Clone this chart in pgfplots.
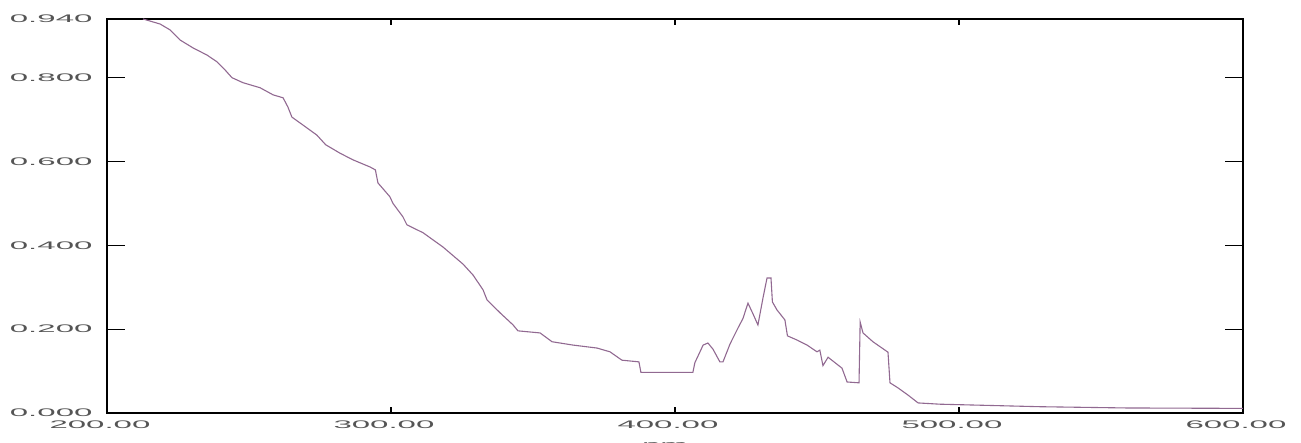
\documentclass[border=0pt]{standalone}
\usepackage{pgfplots}
\pgfplotsset{compat=1.18}
\usepackage{fontspec}
\newfontfamily\tickfont[FakeStretch=3]{Liberation Sans}
\definecolor{curve}{RGB}{145,105,145}
\definecolor{lbl}{RGB}{85,85,85}
\pgfplotstableread{
x y
212.7 0.940
218.7 0.928
222.2 0.914
225.7 0.890
230.3 0.871
235.2 0.854
238.7 0.838
241.5 0.819
244.0 0.800
247.9 0.788
253.9 0.776
258.5 0.759
262.0 0.752
263.7 0.730
265.1 0.706
269.0 0.687
273.9 0.663
277.0 0.640
282.0 0.620
286.6 0.604
292.6 0.587
294.5 0.580
295.4 0.549
299.6 0.516
300.7 0.500
304.2 0.468
305.6 0.449
311.3 0.430
318.3 0.396
325.4 0.355
328.9 0.329
332.4 0.294
333.8 0.270
338.4 0.239
343.0 0.210
344.7 0.196
352.5 0.191
356.7 0.170
364.1 0.162
372.5 0.155
377.1 0.146
381.3 0.126
387.3 0.122
388.0 0.097
406.3 0.097
407.0 0.120
409.9 0.162
411.6 0.167
413.4 0.152
415.8 0.122
416.9 0.122
419.4 0.165
422.2 0.203
423.9 0.225
425.7 0.262
427.5 0.236
429.2 0.210
431.0 0.275
432.4 0.322
433.8 0.322
434.3 0.265
435.9 0.246
438.7 0.222
439.6 0.184
443.0 0.174
446.5 0.162
450.0 0.146
451.0 0.150
452.1 0.113
453.9 0.133
455.6 0.124
458.8 0.107
460.6 0.074
464.8 0.072
465.2 0.217
466.2 0.191
469.7 0.170
475.0 0.145
475.7 0.072
478.5 0.060
482.0 0.043
485.6 0.024
493.3 0.021
505.0 0.019
528.5 0.015
559.0 0.012
600.0 0.011
}\spectrum
\begin{document}
\begin{tikzpicture}
\begin{axis}[
  at={(0pt,0pt)}, anchor=south west,
  scale only axis, width=1136pt, height=394pt,
  xmin=200, xmax=600, ymin=0, ymax=0.94,
  axis line style={black, line width=1.5pt},
  xtick={200,300,400,500,600},
  xticklabels={200.00,300.00,400.00,500.00,600.00},
  ytick={0,0.2,0.4,0.6,0.8,0.94},
  yticklabels={0.000,0.200,0.400,0.600,0.800,0.940},
  tick align=inside, tick pos=both,
  xtick style={black, line width=1.3pt, /pgfplots/major tick length=6pt},
  ytick style={black, line width=1.3pt, /pgfplots/major tick length=18pt},
  /pgf/number format/assume math mode=true,
  tick label style={font=\tickfont\fontsize{11}{13}\selectfont, text=lbl},
  yticklabel style={xshift=-11pt},
  xticklabel style={xshift=-7pt, yshift=-4pt},
  xlabel={nm}, xlabel style={font=\tickfont\fontsize{11}{13}\selectfont, text=lbl, yshift=-7pt, xshift=-10pt},
  clip=true,
]
\addplot[color=curve, line width=1.1pt, mark=none] table[x=x, y=y] {\spectrum};
\end{axis}
\pgfresetboundingbox
\path[use as bounding box] (-107pt,-30pt) rectangle (1194pt,413pt);
\end{tikzpicture}
\end{document}
